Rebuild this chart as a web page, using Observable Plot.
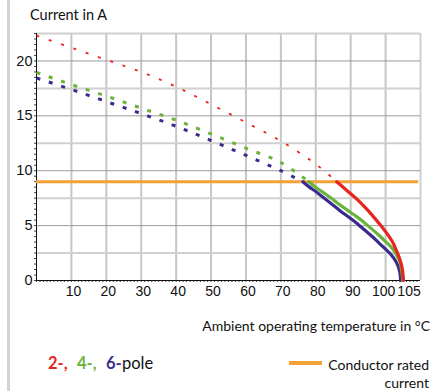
<!DOCTYPE html>
<html><head><meta charset="utf-8">
<script src="https://cdn.jsdelivr.net/npm/d3@7"></script>
<script src="https://cdn.jsdelivr.net/npm/@observablehq/plot@0.6"></script>
<style>
body{margin:0;background:#fff;}
#wrap{position:relative;width:443px;height:391px;overflow:hidden;background:#fff;}
#bar{position:absolute;left:7px;top:0;width:3px;height:391px;background:#d3d3d3;}
#chart{position:absolute;left:0;top:0;}
.t{position:absolute;font-family:Lato,"Open Sans",sans-serif;color:#111;line-height:1;white-space:nowrap;}
#poles span{display:inline-block;}
</style></head>
<body>
<div id="wrap">
<div id="chart"></div>
<div id="bar"></div>
<div class="t" id="ytitle" style="left:30px;top:8px;font-size:14.5px;"></div>
<div class="t" id="xtitle" style="right:13px;top:319px;font-size:14px;"></div>
<div class="t" id="poles" style="left:48px;top:355px;font-size:16.5px;"></div>
<div id="swatch" style="position:absolute;left:289px;top:361px;width:33px;height:4px;"></div>
<div class="t" id="cond" style="right:14px;top:356px;font-size:14px;line-height:18px;text-align:right;"></div>
</div>
<script>
// ---- data ----
const xTitle = "Ambient operating temperature in °C";
const yTitle = "Current in A";
const legendLabels = ["2-,", "4-,", "6-", "pole"];
const conductorLabel = ["Conductor rated", "current"];
const seriesColors = ["#e8251c", "#6ab43e", "#3a2b8f"]; // 2-, 4-, 6-pole
const conductorColor = "#f4a135";
const ratedCurrent = 9;

const xTickValues = [10, 20, 30, 40, 50, 60, 70, 80, 90];
const xTick100 = [100];
const xTick105 = [105];
const yTickValues = [0, 5, 10, 15, 20];

// [temperature °C, current A] — dotted (above rated current) parts
const pole2Dotted = [[0,22.3],[10,21.2],[20,20.1],[30,19.0],[40,17.65],[50,16.05],[60,14.4],[70,12.7],[80,10.6],[86,9.0]];
const pole4Dotted = [[0,18.95],[10,17.85],[20,16.8],[30,15.7],[40,14.6],[50,13.35],[60,12.05],[70,10.75],[78,9.0]];
const pole6Dotted = [[0,18.45],[10,17.4],[20,16.3],[30,15.2],[40,14.05],[50,12.75],[60,11.4],[70,10.0],[76.3,9.0]];
// solid (derating) parts
const pole2Solid = [[86,9.0],[88,8.45],[90,7.9],[92,7.35],[94,6.7],[96,6.0],[98,5.25],[100,4.45],[102,3.5],[103,2.8],[104,2.0],[104.7,1.2],[105,0.5],[105.1,0]];
const pole4Solid = [[78,9.0],[80,8.5],[82,8.05],[84,7.6],[86,7.1],[88,6.65],[90,6.2],[92,5.75],[94,5.25],[96,4.7],[98,4.15],[100,3.55],[102,2.9],[103,2.4],[104,1.8],[104.5,1.1],[104.8,0.5],[104.9,0]];
const pole6Solid = [[76.3,9.0],[78,8.55],[80,8.1],[82,7.6],[84,7.1],[86,6.6],[88,6.1],[90,5.65],[92,5.15],[94,4.6],[96,4.05],[98,3.45],[100,2.85],[101.6,2.35],[103,1.7],[103.8,1.1],[104.2,0.5],[104.3,0]];

// ---- chart ----
const numFont = "'Liberation Sans', Arial, sans-serif";
const dotted = (data, color, w, dash) => Plot.line(data, {x: d => d[0], y: d => d[1], stroke: color, strokeWidth: w, strokeDasharray: dash, strokeLinecap: "butt", curve: "catmull-rom"});
const solid = (data, color, w) => Plot.line(data, {x: d => d[0], y: d => d[1], stroke: color, strokeWidth: w, curve: "catmull-rom"});
const xLabel = (ticks, dx) => Plot.text(ticks, {x: d => d, y: 0, text: d => String(d), dy: 11, dx, fontSize: 14, fontFamily: numFont, textAnchor: "middle", lineAnchor: "middle", fill: "#111"});

const chart = Plot.plot({
  width: 443, height: 340,
  marginLeft: 36, marginRight: 23, marginTop: 33, marginBottom: 60,
  x: {domain: [0, 110], axis: null},
  y: {domain: [0, 22.5], axis: null},
  style: {background: "transparent", color: "#111"},
  marks: [
    Plot.ruleX(d3.range(10, 101, 10), {stroke: "#c6c6c6", strokeWidth: 2}),
    Plot.ruleX([110], {stroke: "#cfcfcf", strokeWidth: 2}),
    Plot.ruleY([2.5, 7.5, 12.5, 17.5, 22.5], {stroke: "#d0d0d0", strokeWidth: 2}),
    Plot.ruleY([5, 10, 15, 20], {stroke: "#9c9c9c", strokeWidth: 1}),
    Plot.axisY(d3.range(0, 22.51, 0.5), {tickSize: 2, tickFormat: () => "", label: null, stroke: "#444"}),
    Plot.axisX(d3.range(0, 110, 1), {tickSize: 2, tickFormat: () => "", label: null, stroke: "#444"}),
    Plot.text(yTickValues, {x: 0, y: d => d, text: d => String(d), dx: -4, textAnchor: "end", fontSize: 14.5, fontFamily: numFont, fill: "#111"}),
    xLabel(xTickValues, 2),
    xLabel(xTick100, -2),
    xLabel(xTick105, 6),
    Plot.ruleY([0], {stroke: "#111", strokeWidth: 1}),
    Plot.ruleX([0], {stroke: "#111", strokeWidth: 1}),
    Plot.ruleY([ratedCurrent], {x1: 0, x2: 109.5, stroke: conductorColor, strokeWidth: 3}),
    dotted(pole2Dotted, seriesColors[0], 1.8, "3,10"),
    dotted(pole4Dotted, seriesColors[1], 3, "4,9"),
    dotted(pole6Dotted, seriesColors[2], 3, "4,9"),
    solid(pole6Solid, seriesColors[2], 3.2),
    solid(pole4Solid, seriesColors[1], 3.2),
    solid(pole2Solid, seriesColors[0], 3.2)
  ]
});
document.getElementById("chart").appendChild(chart);

document.getElementById("ytitle").textContent = yTitle;
document.getElementById("xtitle").textContent = xTitle;
const poles = document.getElementById("poles");
const spanWidths = [29, 29, 16, null];
legendLabels.forEach((lab, i) => {
  const s = document.createElement("span");
  s.textContent = lab;
  if (spanWidths[i]) s.style.width = spanWidths[i] + "px";
  if (i < 3) { s.style.color = seriesColors[i]; s.style.fontWeight = "bold"; }
  poles.appendChild(s);
});
document.getElementById("swatch").style.background = conductorColor;
document.getElementById("cond").innerHTML = conductorLabel.join("<br>");
</script>
</body></html>
